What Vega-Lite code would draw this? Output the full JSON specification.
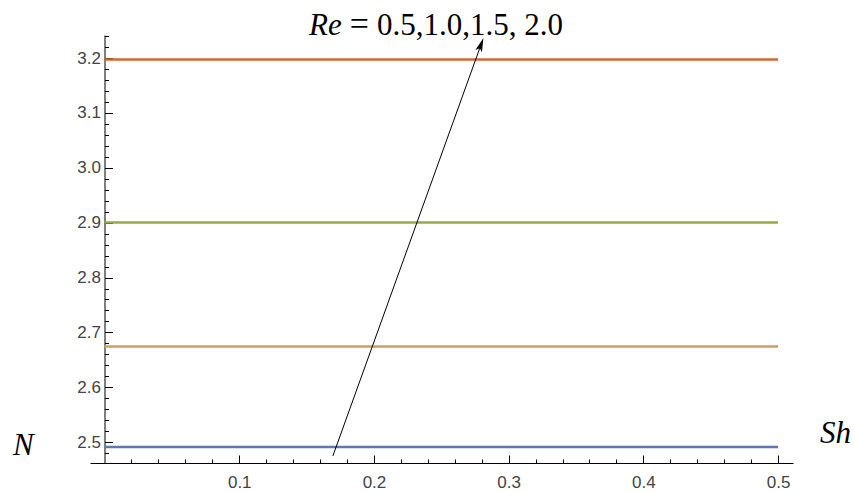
{
  "$schema": "https://vega.github.io/schema/vega-lite/v6.json",
  "width": 703,
  "height": 428,
  "autosize": "none",
  "padding": {"left": 90, "top": 35, "right": 62, "bottom": 29},
  "background": "white",
  "config": {"view": {"stroke": null}},
  "datasets": {
    "lines": [
      {"Re": "0.5", "Sh": 0, "N": 2.491}, {"Re": "0.5", "Sh": 0.5, "N": 2.491},
      {"Re": "1.0", "Sh": 0, "N": 2.6745}, {"Re": "1.0", "Sh": 0.5, "N": 2.6745},
      {"Re": "1.5", "Sh": 0, "N": 2.9005}, {"Re": "1.5", "Sh": 0.5, "N": 2.9005},
      {"Re": "2.0", "Sh": 0, "N": 3.1975}, {"Re": "2.0", "Sh": 0.5, "N": 3.1975}
    ],
    "arrow": [{"x0": 0.1695, "y0": 2.4748, "x1": 0.2795, "y1": 3.2245}],
    "head": [{"x": 0.2795, "y": 3.2245}],
    "italicLabels": [
      {"x": 0.1518, "y": 3.242, "t": "Re"},
      {"x": -0.0679, "y": 2.4766, "t": "N"},
      {"x": 0.5312, "y": 2.4985, "t": "Sh"}
    ],
    "eqLabel": [{"x": 0.1892, "y": 3.2422, "t": "="}],
    "valLabel": [{"x": 0.2023, "y": 3.242, "t": "0.5,1.0,1.5, 2.0"}]
  },
  "layer": [
    {
      "data": {"name": "lines"},
      "mark": {"type": "line", "strokeWidth": 2.5, "clip": false},
      "encoding": {
        "x": {"field": "Sh", "type": "quantitative", "scale": {"domain": [-0.0108, 0.5111], "nice": false, "zero": false},
          "axis": {"orient": "bottom", "title": null, "grid": false, "values": [0.1, 0.2, 0.3, 0.4, 0.5], "format": ".1f",
            "domainColor": "black", "domainWidth": 1, "tickColor": "black", "tickSize": -8, "tickWidth": 1,
            "labelFont": "'Liberation Sans', Arial, sans-serif", "labelFontSize": 17, "labelColor": "#444444", "labelPadding": 19}},
        "y": {"field": "N", "type": "quantitative", "scale": {"domain": [2.462, 3.242], "nice": false, "zero": false},
          "axis": {"orient": "left", "offset": -14.5, "title": null, "grid": false, "values": [2.5, 2.6, 2.7, 2.8, 2.9, 3.0, 3.1, 3.2], "format": ".1f",
            "domainColor": "black", "domainWidth": 1, "tickColor": "black", "tickSize": -8, "tickWidth": 1,
            "labelFont": "'Liberation Sans', Arial, sans-serif", "labelFontSize": 17, "labelColor": "#444444", "labelPadding": 12}},
        "color": {"field": "Re", "type": "nominal", "legend": null,
          "scale": {"domain": ["0.5", "1.0", "1.5", "2.0"], "range": ["#5b7ab5", "#c4a35e", "#95aa4c", "#d2653a"]}},
        "detail": {"field": "Re"}
      }
    },
    {
      "data": {"name": "lines"},
      "mark": {"type": "line", "strokeOpacity": 0},
      "encoding": {
        "x": {"field": "Sh", "type": "quantitative",
          "axis": {"orient": "bottom", "title": null, "grid": false, "labels": false, "domain": false,
            "values": [0.02, 0.04, 0.06, 0.08, 0.12, 0.14, 0.16, 0.18, 0.22, 0.24, 0.26, 0.28, 0.32, 0.34, 0.36, 0.38, 0.42, 0.44, 0.46, 0.48],
            "tickColor": "black", "tickSize": -4, "tickWidth": 1}},
        "y": {"field": "N", "type": "quantitative",
          "axis": {"orient": "left", "offset": -14.5, "title": null, "grid": false, "labels": false, "domain": false,
            "values": [2.48, 2.52, 2.54, 2.56, 2.58, 2.62, 2.64, 2.66, 2.68, 2.72, 2.74, 2.76, 2.78, 2.82, 2.84, 2.86, 2.88, 2.92, 2.94, 2.96, 2.98, 3.02, 3.04, 3.06, 3.08, 3.12, 3.14, 3.16, 3.18, 3.22, 3.24],
            "tickColor": "black", "tickSize": -4, "tickWidth": 1}},
        "detail": {"field": "Re"}
      }
    },
    {
      "data": {"name": "arrow"},
      "mark": {"type": "rule", "color": "black", "strokeWidth": 1},
      "encoding": {
        "x": {"field": "x0", "type": "quantitative", "axis": null},
        "y": {"field": "y0", "type": "quantitative", "axis": null},
        "x2": {"field": "x1"},
        "y2": {"field": "y1"}
      }
    },
    {
      "data": {"name": "head"},
      "mark": {"type": "point", "shape": "M0,-1L-0.5,1L0,0.55L0.5,1Z", "filled": true, "color": "black", "opacity": 1, "size": 196, "angle": 19.8},
      "encoding": {
        "x": {"field": "x", "type": "quantitative", "axis": null},
        "y": {"field": "y", "type": "quantitative", "axis": null}
      }
    },
    {
      "data": {"name": "italicLabels"},
      "mark": {"type": "text", "font": "'Liberation Serif', 'Times New Roman', 'DejaVu Serif', serif", "fontSize": 31, "fontStyle": "italic", "baseline": "alphabetic", "align": "left", "color": "black"},
      "encoding": {
        "x": {"field": "x", "type": "quantitative", "axis": null},
        "y": {"field": "y", "type": "quantitative", "axis": null},
        "text": {"field": "t"}
      }
    },
    {
      "data": {"name": "eqLabel"},
      "mark": {"type": "text", "font": "'Liberation Serif', 'Times New Roman', 'DejaVu Serif', serif", "fontSize": 34, "baseline": "alphabetic", "align": "center", "color": "black"},
      "encoding": {
        "x": {"field": "x", "type": "quantitative", "axis": null},
        "y": {"field": "y", "type": "quantitative", "axis": null},
        "text": {"field": "t"}
      }
    },
    {
      "data": {"name": "valLabel"},
      "mark": {"type": "text", "font": "'Liberation Serif', 'Times New Roman', 'DejaVu Serif', serif", "fontSize": 31, "baseline": "alphabetic", "align": "left", "color": "black"},
      "encoding": {
        "x": {"field": "x", "type": "quantitative", "axis": null},
        "y": {"field": "y", "type": "quantitative", "axis": null},
        "text": {"field": "t"}
      }
    }
  ],
  "resolve": {"axis": {"x": "independent", "y": "independent"}}
}
